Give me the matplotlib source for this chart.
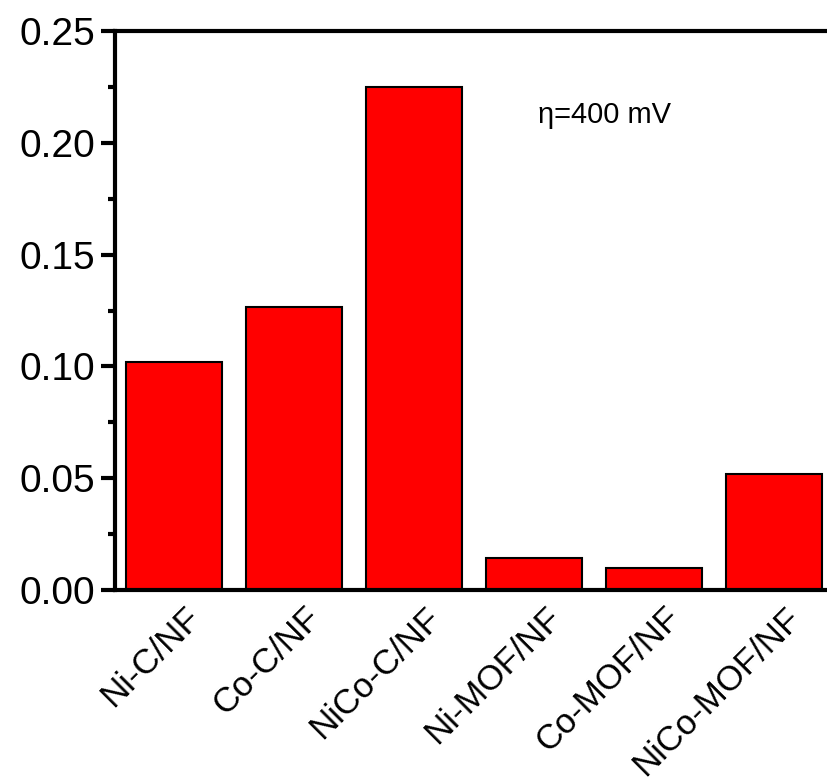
import numpy as np
import matplotlib.pyplot as plt
import matplotlib.transforms as mtransforms
from matplotlib.ticker import MultipleLocator

# catalyst samples and values
samples = ['Ni-C/NF', 'Co-C/NF', 'NiCo-C/NF', 'Ni-MOF/NF', 'Co-MOF/NF', 'NiCo-MOF/NF']
values = [0.102, 0.1265, 0.225, 0.0145, 0.0098, 0.0518]

plt.rcParams['font.family'] = ['Liberation Sans', 'DejaVu Sans']

fig = plt.figure(figsize=(8.27, 7.8), dpi=100)
ax = fig.add_axes([0.139, 0.2436, 0.861, 0.7166])

x = np.arange(1, len(samples) + 1)
ax.bar(x, values, width=0.8, color='#ff0000', edgecolor='black', linewidth=1.5)

ax.set_xlim(0.508, 6.44)
ax.set_ylim(0, 0.25)
ax.yaxis.set_major_locator(MultipleLocator(0.05))
ax.yaxis.set_minor_locator(MultipleLocator(0.025))
ax.yaxis.set_major_formatter(plt.FormatStrFormatter('%.2f'))

ax.set_xticks(x)
ax.set_xticklabels(samples, rotation=45, ha='right', rotation_mode='anchor', fontsize=25)
ax.tick_params(axis='x', length=0, pad=8)
# nudge the rotated labels a bit to the right like in the original
shift = mtransforms.ScaledTranslation(0.1, 0, fig.dpi_scale_trans)
for lab in ax.get_xticklabels():
    lab.set_transform(lab.get_transform() + shift)
ax.tick_params(axis='y', which='major', direction='out', length=10, width=3, labelsize=28, pad=4)
ax.tick_params(axis='y', which='minor', direction='out', length=5, width=3)

for side in ['left', 'top', 'bottom']:
    ax.spines[side].set_linewidth(3)
ax.spines['right'].set_visible(False)

ax.text(4.03, 0.2089, 'η=400 mV', fontsize=21, ha='left', va='baseline')

fig.savefig('out.png', dpi=100)
